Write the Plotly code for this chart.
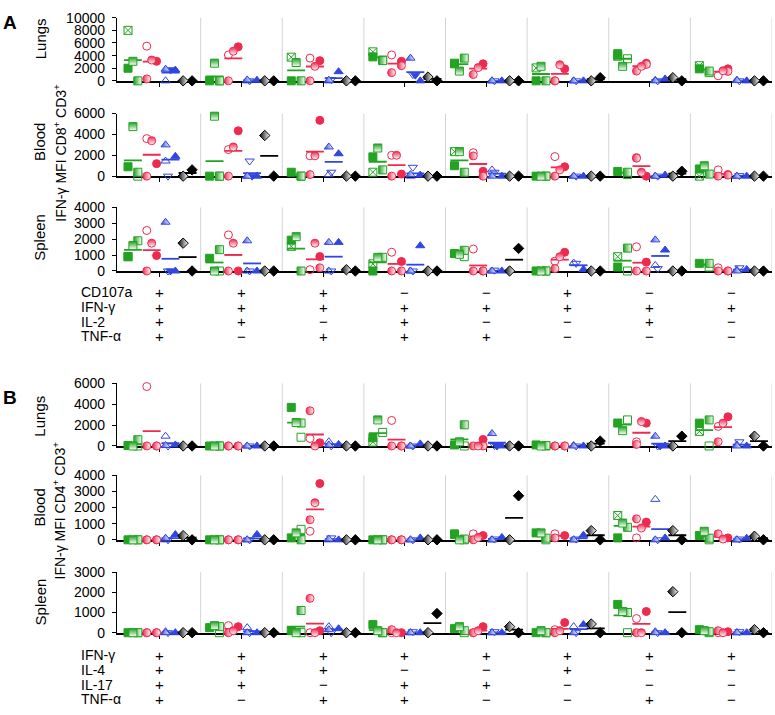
import plotly.graph_objects as go

# ---------------- DATA ----------------
# Each cluster: values per animal (None = not shown)
# green animals: [filled, open, crossed, half-v, half-h]
# red animals:   [filled, open, half-a, half-v, half-h]
# blue animals:  [up filled, up open, down filled, down open, up half]
# black animals: [filled, half]

A_LUNGS_GREEN = [[2000, None, 8000, 0, 3100], [0, 0, None, 0, 2800], [0, None, 3750, 0, 2900],
                 [3800, 3300, 4600, 3200, None], [2700, None, 2800, 3600, 1550], [0, None, 2050, 0, 2300],
                 [4300, 3500, 3900, None, 2300], [1900, 1300, 2400, 1550, None]]
A_LUNGS_RED = [[3100, 5500, None, 300, 3300], [5400, 4100, None, 0, 4700], [3200, 3600, None, 0, 2300],
               [3100, 4100, 2400, 1300, None], [2700, None, None, 1000, 2100], [1900, 0, None, 0, 2550],
               [2800, None, 2600, 1550, 2300], [1900, 800, 1500, None, 1600]]
A_LUNGS_BLUE = [[1700, 0, 1750, None, 1850], [100, 0, None, 0, 150], [1450, 0, None, 200, 100],
                [0, None, 900, 1000, 3600], [0, 0, None, 0, 0], [0, 0, None, 0, 0],
                [300, 100, None, 0, 0], [0, 100, None, 0, 50]]
A_LUNGS_BLACK = [[0, 0], [0, 0], [0, 0], [0, 600], [0, 0], [500, 0], [0, 500], [0, 0]]

A_BLOOD_GREEN = [[900, 0, None, 375, 4750], [0, 0, None, 0, 5750], [375, 0, None, 0, None],
                 [1850, None, 375, 600, 2700], [1000, None, 2350, 375, 2350], [0, 0, None, 0, 0],
                 [450, 150, None, 375, None], [690, None, 0, 200, 1000]]
A_BLOOD_RED = [[1200, 3600, None, 0, 3400], [4350, 2550, None, 0, 2800], [5350, 1950, None, 150, 1950],
               [200, 2000, None, 0, 2000], [470, 2250, 0, 1940, None], [900, 1875, None, 0, 600],
               [0, 1780, None, 1720, 375], [150, 600, 100, 0, None]]
A_BLOOD_BLUE = [[1900, 1450, None, 0, 3000], [0, 0, 0, 1450, 0], [2150, 150, None, 375, 2800],
                [100, 0, None, 850, 150], [0, 600, None, 375, 0], [0, 0, None, 0, 0],
                [100, 0, None, 0, 0], [0, 0, None, 50, 0]]
A_BLOOD_BLACK = [[600, 0], [0, 3900], [0, 0], [0, 0], [0, 0], [0, 0], [470, 0], [0, 0]]

A_SPLEEN_GREEN = [[900, None, 900, 1900, 1600], [800, 0, None, 1340, 0], [1940, None, 1550, 0, 2160],
                  [0, None, 450, 860, 860], [1100, 900, None, 1300, 1050], [0, 0, None, 0, 0],
                  [250, 0, 900, 1440, None], [480, 250, None, 480, None]]
A_SPLEEN_RED = [[970, 2550, None, 0, 1750], [0, 2270, None, 0, 1750], [910, 80, 200, None, 1750],
                [600, 1180, 0, 0, None], [0, 1380, 0, 0, None], [1180, 620, None, 150, 900],
                [560, 1520, 0, 0, None], [0, 200, 0, 0, None]]
A_SPLEEN_BLUE = [[0, None, 0, 0, 3070], [0, 0, None, 0, 1900], [1800, 0, None, 0, 1800],
                 [1590, 0, None, 0, 0], [0, 0, None, 50, 0], [100, 500, None, 480, None],
                 [1320, 350, None, 150, 1960], [100, 50, None, 200, 0]]
A_SPLEEN_BLACK = [[0, 1750], [0, 0], [0, 80], [0, 0], [1420, 0], [0, 0], [0, 0], [0, 0]]

B_LUNGS_GREEN = [[50, 0, None, 600, 0], [0, 0, None, 0, 0], [3700, 840, None, 2200, 2250],
                 [780, 1300, 375, None, 2500], [100, 0, None, 2030, 400], [100, 0, None, 50, 0],
                 [2200, 2500, None, None, 1470], [2190, 0, 1400, 2500, None]]
B_LUNGS_RED = [[0, 5700, 0, 0, None], [0, 0, 0, 0, None], [310, 720, None, 3375, 0],
               [0, 2450, 0, 0, None], [625, None, 0, 0, 0], [0, 0, 0, 0, None],
               [2190, 400, None, 150, 2340], [2800, 1875, None, 400, 2190]]
B_LUNGS_BLUE = [[100, 940, None, 0, 50], [0, 0, None, 0, 0], [150, 400, None, 0, 100],
                [200, 0, None, 0, 0], [0, None, 0, 50, 1190], [0, 50, None, 0, 0],
                [0, None, 0, 0, 940], [0, 100, None, 400, 0]]
B_LUNGS_BLACK = [[0, 0], [0, 0], [0, 0], [0, 0], [0, 0], [470, 0], [940, 0], [0, 940]]

B_BLOOD_GREEN = [[0, 0, None, 0, 0], [0, 0, None, 0, 0], [120, 650, None, 0, 430],
                 [0, 0, None, 0, 0], [370, 0, None, 50, 0], [430, 0, None, 100, 430],
                 [120, None, 1510, 775, 1040], [265, 0, None, 100, 530]]
B_BLOOD_RED = [[0, 0, 0, 0, None], [0, 0, 0, 0, None], [3490, 530, None, 1245, 2300],
               [0, 0, 0, 0, None], [265, 370, None, 0, 150], [265, 370, None, 120, None],
               [1100, 120, None, 1300, 735], [120, None, None, 370, 50]]
B_BLOOD_BLUE = [[330, 0, None, 0, 100], [330, 0, None, 0, 0], [0, 0, None, 120, 50],
                [120, 0, None, 0, 0], [150, 0, None, 50, 0], [290, 0, None, 50, 0],
                [120, 2510, None, 0, 0], [100, 0, None, 50, 0]]
B_BLOOD_BLACK = [[0, 260], [0, 0], [0, 0], [0, 0], [2730, 0], [0, 570], [0, 570], [0, 220]]

B_SPLEEN_GREEN = [[0, 0, None, 0, 0], [250, 0, None, 300, 350], [100, 0, None, 1100, 0],
                  [400, 0, None, 0, 100], [200, 0, None, 100, 300], [0, 0, None, 0, 100],
                  [1400, 0, None, 1000, 1050], [150, 0, None, 50, 100]]
B_SPLEEN_RED = [[0, 0, 0, 0, None], [300, 350, None, 0, 100], [100, 0, None, 1700, 0],
                [0, 0, None, 150, 0], [300, 0, None, 0, 100], [500, 150, None, 0, 100],
                [1050, 700, None, 0, 0], [50, 0, None, 100, 0]]
B_SPLEEN_BLUE = [[0, 50, None, 0, 0], [0, 250, None, 0, 0], [200, 300, None, 0, 150],
                 [0, 0, None, 50, 0], [0, 0, None, 50, 0], [400, 300, None, 0, 0],
                 [0, 50, None, 0, 0], [0, 0, None, 50, 0]]
B_SPLEEN_BLACK = [[0, 0], [0, 0], [0, 0], [950, 0], [0, 300], [0, 430], [0, 2030], [0, 150]]

A_LUNGS_TICKS = [0, 2000, 4000, 6000, 8000, 10000]
A_BLOOD_TICKS = [0, 2000, 4000, 6000]
A_SPLEEN_TICKS = [0, 1000, 2000, 3000, 4000]
B_LUNGS_TICKS = [0, 2000, 4000, 6000]
B_BLOOD_TICKS = [0, 1000, 2000, 3000, 4000]
B_SPLEEN_TICKS = [0, 1000, 2000, 3000]

A_ROWS = ["CD107a", "IFN-γ", "IL-2", "TNF-α"]
A_SIGNS = ["++++", "+++-", "++-+", "-+++", "-+-+", "++--", "-++-", "-+--"]
B_ROWS = ["IFN-γ", "IL-4", "IL-17", "TNF-α"]
B_SIGNS = ["++++", "+++-", "++-+", "+-++", "+-+-", "++--", "+--+", "+---"]

# ---------------- STYLE ----------------
W, H = 775, 715
FONT = "Liberation Sans, Arial, sans-serif"
GREEN, RED, BLUE, BLACK = "#22a322", "#ee2a4f", "#3046e0", "#000000"

STYLE = {
    "green": dict(color=GREEN, off=-0.33,
                  sym=["square", "square-open", "square-x-open", "square", "square"],
                  grad=["none", "none", "none", "horizontal", "vertical"],
                  jit=[-0.06, 0.06, -0.06, 0.06, 0.0]),
    "red": dict(color=RED, off=-0.10,
                sym=["circle", "circle-open", "circle", "circle", "circle"],
                grad=["none", "none", "horizontal", "horizontal", "vertical"],
                jit=[0.06, -0.06, 0.06, -0.06, 0.0]),
    "blue": dict(color=BLUE, off=0.13,
                 sym=["triangle-up", "triangle-up-open", "triangle-down", "triangle-down-open", "triangle-up"],
                 grad=["none", "none", "none", "none", "horizontal"],
                 jit=[0.06, -0.06, 0.0, -0.03, -0.06]),
    "black": dict(color=BLACK, off=0.34,
                  sym=["diamond", "diamond"],
                  grad=["none", "horizontal"],
                  jit=[0.055, -0.055]),
}

def py2paper(py):
    return 1 - py / H

PANELS = [
    dict(name="Lungs", px=(74.5, 10), ticks=A_LUNGS_TICKS,
         data=dict(green=A_LUNGS_GREEN, red=A_LUNGS_RED, blue=A_LUNGS_BLUE, black=A_LUNGS_BLACK), lab_py=32),
    dict(name="Blood", px=(172, 108), ticks=A_BLOOD_TICKS,
         data=dict(green=A_BLOOD_GREEN, red=A_BLOOD_RED, blue=A_BLOOD_BLUE, black=A_BLOOD_BLACK), lab_py=137),
    dict(name="Spleen", px=(269, 204), ticks=A_SPLEEN_TICKS,
         data=dict(green=A_SPLEEN_GREEN, red=A_SPLEEN_RED, blue=A_SPLEEN_BLUE, black=A_SPLEEN_BLACK), lab_py=235),
    dict(name="Lungs", px=(448, 384), ticks=B_LUNGS_TICKS,
         data=dict(green=B_LUNGS_GREEN, red=B_LUNGS_RED, blue=B_LUNGS_BLUE, black=B_LUNGS_BLACK), lab_py=418),
    dict(name="Blood", px=(544, 478), ticks=B_BLOOD_TICKS,
         data=dict(green=B_BLOOD_GREEN, red=B_BLOOD_RED, blue=B_BLOOD_BLUE, black=B_BLOOD_BLACK), lab_py=511),
    dict(name="Spleen", px=(639, 577), ticks=B_SPLEEN_TICKS,
         data=dict(green=B_SPLEEN_GREEN, red=B_SPLEEN_RED, blue=B_SPLEEN_BLUE, black=B_SPLEEN_BLACK), lab_py=608),
]

X_RANGE = [-0.525, 7.5]
X_DOMAIN = [117 / W, 772 / W]
HALF = 0.11

fig = go.Figure()
layout = dict(width=W, height=H, margin=dict(l=0, r=0, t=0, b=0),
              paper_bgcolor="white", plot_bgcolor="white", showlegend=False,
              font=dict(family=FONT, size=14, color="black"))
shapes, annotations = [], []

for i, p in enumerate(PANELS):
    k = "" if i == 0 else str(i + 1)
    xa, ya = "x" + k, "y" + k
    ymax = p["ticks"][-1]
    layout["xaxis" + k] = dict(domain=X_DOMAIN, range=X_RANGE, anchor=ya,
                               showline=True, linecolor="black", linewidth=2,
                               tickvals=list(range(8)), ticks="outside", ticklen=4, tickwidth=1,
                               tickcolor="black", showticklabels=False, showgrid=False,
                               zeroline=False, layer="below traces")
    layout["yaxis" + k] = dict(domain=[py2paper(p["px"][0]), py2paper(p["px"][1])],
                               range=[0, ymax], anchor=xa,
                               showline=True, linecolor="black", linewidth=1.3,
                               tickvals=p["ticks"], ticktext=[str(t) for t in p["ticks"]],
                               ticks="outside", ticklen=4, tickcolor="black",
                               ticklabelstandoff=4,
                               tickfont=dict(size=14, family=FONT),
                               showgrid=False, zeroline=False, layer="below traces")
    # group dividers
    for g in range(8):
        shapes.append(dict(type="line", xref=xa, yref=ya + " domain", x0=g + 0.5, x1=g + 0.5,
                           y0=0, y1=1, line=dict(color="#d4d4d4", width=1), layer="below"))
    for cname, st in STYLE.items():
        groups = p["data"][cname]
        xs, ys, syms, grads = [], [], [], []
        lx, ly = [], []
        for g, vals in enumerate(groups):
            pts = []
            for a, v in enumerate(vals):
                if v is None:
                    continue
                xs.append(g + st["off"] + st["jit"][a])
                ys.append(v)
                syms.append(st["sym"][a])
                grads.append(st["grad"][a])
                pts.append(v)
            if pts:
                m = sum(pts) / len(pts)
                c = g + st["off"]
                lx += [c - HALF, c + HALF, None]
                ly += [m, m, None]
        fig.add_trace(go.Scatter(x=lx, y=ly, xaxis=xa, yaxis=ya, mode="lines",
                                 line=dict(color=st["color"], width=1.8),
                                 hoverinfo="skip", cliponaxis=False))
        fig.add_trace(go.Scatter(x=xs, y=ys, xaxis=xa, yaxis=ya, mode="markers", cliponaxis=False,
                                 marker=dict(symbol=syms, size=8, color=st["color"],
                                             gradient=dict(type=grads, color="white"),
                                             line=dict(color=st["color"], width=1))))
    annotations.append(dict(text=p["name"], xref="paper", yref="paper", x=40 / W,
                            y=py2paper(p["lab_py"]), textangle=-90, showarrow=False,
                            xanchor="center", yanchor="middle", font=dict(size=15)))

# y titles
annotations.append(dict(text="IFN-γ MFI CD8<sup>+</sup> CD3<sup>+</sup>", xref="paper", yref="paper",
                        x=60 / W, y=py2paper(148), textangle=-90, showarrow=False,
                        xanchor="center", yanchor="middle", font=dict(size=14)))
annotations.append(dict(text="IFN-γ MFI CD4<sup>+</sup> CD3<sup>+</sup>", xref="paper", yref="paper",
                        x=60 / W, y=py2paper(514), textangle=-90, showarrow=False,
                        xanchor="center", yanchor="middle", font=dict(size=14)))
# panel letters
annotations.append(dict(text="<b>A</b>", xref="paper", yref="paper", x=1 / W, y=py2paper(2),
                        xanchor="left", yanchor="top", showarrow=False, font=dict(size=19)))
annotations.append(dict(text="<b>B</b>", xref="paper", yref="paper", x=1 / W, y=py2paper(386),
                        xanchor="left", yanchor="top", showarrow=False, font=dict(size=19)))

# tables
def add_table(rows, signs, row_py, xref):
    for r, label in enumerate(rows):
        annotations.append(dict(text=label, xref="paper", yref="paper", x=79 / W, y=py2paper(row_py[r]),
                                xanchor="left", yanchor="middle", showarrow=False, font=dict(size=14)))
        for g, col in enumerate(signs):
            s = "+" if col[r] == "+" else "−"
            annotations.append(dict(text=s, xref=xref, yref="paper", x=g, y=py2paper(row_py[r]),
                                    xanchor="center", yanchor="middle", showarrow=False,
                                    font=dict(size=15)))

add_table(A_ROWS, A_SIGNS, [291, 306, 321, 336], "x3")
add_table(B_ROWS, B_SIGNS, [662, 677, 692, 707], "x6")

layout["shapes"] = shapes
layout["annotations"] = annotations
fig.update_layout(**layout)
fig.write_html("out.html", config={"displayModeBar": False},
               post_script="document.body.style.margin='0';document.body.style.overflow='hidden';")
